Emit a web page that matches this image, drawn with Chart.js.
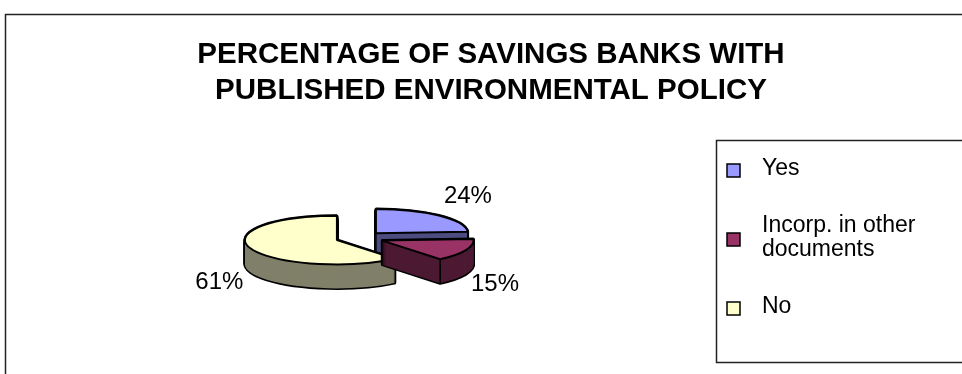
<!DOCTYPE html>
<html>
<head>
<meta charset="utf-8">
<script src="https://cdn.jsdelivr.net/npm/chart.js@4.4.0/dist/chart.umd.min.js"></script>
<style>
	html, body { margin: 0; padding: 0; background: #fff; overflow: hidden; }
</style>
</head>
<body>
<canvas id="policyChart" width="962" height="374"></canvas>
<script>
// data
const titleLines = ["PERCENTAGE OF SAVINGS BANKS WITH", "PUBLISHED ENVIRONMENTAL POLICY"];
const categories = ["Yes", "Incorp. in other documents", "No"];
const shares = [24, 15, 61];
const topColors = ["#9999FF", "#993366", "#FFFFCC"];
const sideColors = ["#4D4D80", "#4D1A33", "#80806A"];

// look of the fake 3d pie
const PIE_RADIUS = 92;
const TILT = 0.265;
const DEPTH = 24;
const EXPLODE = 24;
const LEGEND_SPACE = 263;
const FONT = "'Liberation Sans', Arial, sans-serif";

Chart.defaults.font.family = FONT;

const midAngle = (arc) => (arc.startAngle + arc.endAngle) / 2;

function paintArc(ctx, arc, depth, fill, border, width) {
	const m = midAngle(arc);
	const saved = arc.options;
	arc.options = Object.assign({}, saved, {
		backgroundColor: fill,
		borderColor: border,
		borderWidth: width,
		offset: 0,
	});
	ctx.save();
	ctx.translate(arc.x, arc.y + depth);
	ctx.scale(1, TILT);
	ctx.translate(-arc.x, -arc.y);
	ctx.translate(Math.cos(m) * EXPLODE, Math.sin(m) * EXPLODE);
	arc.draw(ctx);
	ctx.restore();
	arc.options = saved;
}

// vertical edges where a wall or a cut face ends
function paintEdges(ctx, arc) {
	const m = midAngle(arc);
	const ax = arc.x + Math.cos(m) * EXPLODE;
	const ay = arc.y + Math.sin(m) * EXPLODE * TILT;
	const rim = (a) => [ax + Math.cos(a) * arc.outerRadius, ay + Math.sin(a) * arc.outerRadius * TILT];
	const pts = [];
	[
		[arc.startAngle, arc.startAngle - Math.PI / 2],
		[arc.endAngle, arc.endAngle + Math.PI / 2],
	].forEach(([a, normal]) => {
		const faceSeen = Math.sin(normal) > 1e-6;
		if (faceSeen) pts.push([ax, ay]);
		if (faceSeen || Math.sin(a) > 1e-6) pts.push(rim(a));
	});
	ctx.save();
	ctx.strokeStyle = "#000";
	ctx.lineWidth = 1.5;
	pts.forEach(([x, y]) => {
		ctx.beginPath();
		ctx.moveTo(x, y);
		ctx.lineTo(x, y + DEPTH);
		ctx.stroke();
	});
	ctx.restore();
}

const pie3d = {
	id: "pie3d",
	beforeDatasetsDraw(chart) {
		const ctx = chart.ctx;
		const arcs = chart.getDatasetMeta(0).data;
		const order = arcs
			.map((a, i) => i)
			.sort((a, b) => Math.sin(midAngle(arcs[a])) - Math.sin(midAngle(arcs[b])));
		const dpr = chart.currentDevicePixelRatio;
		// keep line width even when the context is squashed
		const origStroke = ctx.stroke;
		ctx.stroke = function () {
			this.save();
			this.setTransform(dpr, 0, 0, dpr, 0, 0);
			origStroke.call(this);
			this.restore();
		};
		order.forEach((i) => {
			const arc = arcs[i];
			for (let d = DEPTH; d >= 0; d--) paintArc(ctx, arc, d, "#000", "#000", 3);
			for (let d = DEPTH; d >= 1; d--) paintArc(ctx, arc, d, sideColors[i], sideColors[i], 0);
			paintEdges(ctx, arc);
			paintArc(ctx, arc, 0, topColors[i], "#000", 2);
		});
		delete ctx.stroke;
		return false;
	},
	afterDraw(chart) {
		const ctx = chart.ctx;
		const arcs = chart.getDatasetMeta(0).data;
		const total = shares.reduce((s, v) => s + v, 0);
		ctx.save();
		ctx.font = "24px " + FONT;
		ctx.fillStyle = "#000";
		ctx.textBaseline = "alphabetic";
		arcs.forEach((arc, i) => {
			const m = midAngle(arc);
			const c = Math.cos(m), s = Math.sin(m);
			let px = arc.x + c * (EXPLODE + arc.outerRadius);
			let py = arc.y + s * (EXPLODE + arc.outerRadius) * TILT;
			if (s > 0) py += DEPTH + 17;
			else py -= 12;
			ctx.textAlign = c >= 0 ? "left" : "right";
			px += c >= 0 ? 5 : -7;
			ctx.fillText(Math.round((shares[i] / total) * 100) + "%", px, py);
		});
		ctx.restore();
	},
};

function wrapText(ctx, text, maxWidth) {
	const words = text.split(" ");
	const lines = [];
	let line = "";
	words.forEach((w) => {
		const test = line ? line + " " + w : w;
		if (line && ctx.measureText(test).width > maxWidth) {
			lines.push(line);
			line = w;
		} else {
			line = test;
		}
	});
	lines.push(line);
	return lines;
}

function drawLegend(chart, box) {
	const ctx = chart.ctx;
	const left = box.left + 17;
	const top = 140;
	ctx.save();
	ctx.strokeStyle = "#222";
	ctx.lineWidth = 1.5;
	ctx.strokeRect(left + 0.5, top + 0.5, 400, 222);
	ctx.font = "23px " + FONT;
	ctx.textBaseline = "middle";
	ctx.textAlign = "left";
	const lineH = 24;
	let y = top + 17;
	categories.forEach((label, i) => {
		const lines = wrapText(ctx, label, 190);
		const blockH = lines.length * lineH;
		const mid = y + blockH / 2 + 1;
		ctx.fillStyle = topColors[i];
		ctx.fillRect(left + 11, Math.round(mid - 6.5), 13, 13);
		ctx.strokeStyle = "#000";
		ctx.lineWidth = 1.5;
		ctx.strokeRect(left + 11, Math.round(mid - 6.5), 13, 13);
		ctx.fillStyle = "#000";
		lines.forEach((ln, j) => ctx.fillText(ln, left + 46, y + lineH / 2 + j * lineH));
		y += blockH + 33;
	});
	ctx.restore();
}

const legendPanel = {
	id: "legendPanel",
	beforeInit(chart) {
		const box = {
			position: "right",
			weight: 1000,
			fullSize: false,
			options: {},
			isHorizontal() {
				return false;
			},
			update(maxWidth, maxHeight) {
				this.width = LEGEND_SPACE;
				this.height = maxHeight;
			},
			draw() {
				drawLegend(chart, this);
			},
		};
		Chart.layouts.addBox(chart, box);
	},
};

const frame = {
	id: "frame",
	beforeDraw(chart) {
		const ctx = chart.ctx;
		ctx.save();
		ctx.fillStyle = "#fff";
		ctx.fillRect(0, 0, chart.width, chart.height);
		ctx.strokeStyle = "#222";
		ctx.lineWidth = 1.5;
		ctx.strokeRect(5.5, 14.5, 1000, 500);
		ctx.restore();
	},
};

new Chart(document.getElementById("policyChart"), {
	type: "pie",
	data: {
		labels: categories,
		datasets: [
			{
				data: shares,
				backgroundColor: topColors,
				borderColor: "#000",
				borderWidth: 1.5,
			},
		],
	},
	options: {
		responsive: false,
		animation: false,
		devicePixelRatio: 1,
		radius: PIE_RADIUS,
		layout: { padding: { left: 20, right: 0, top: 0, bottom: 15 } },
		plugins: {
			legend: { display: false },
			tooltip: { enabled: false },
			title: {
				display: true,
				text: titleLines,
				color: "#000",
				font: { family: FONT, size: 29.5, weight: "bold", lineHeight: 1.237 },
				padding: { top: 36.5, bottom: 7.3 },
			},
		},
	},
	plugins: [frame, legendPanel, pie3d],
});
</script>
</body>
</html>
